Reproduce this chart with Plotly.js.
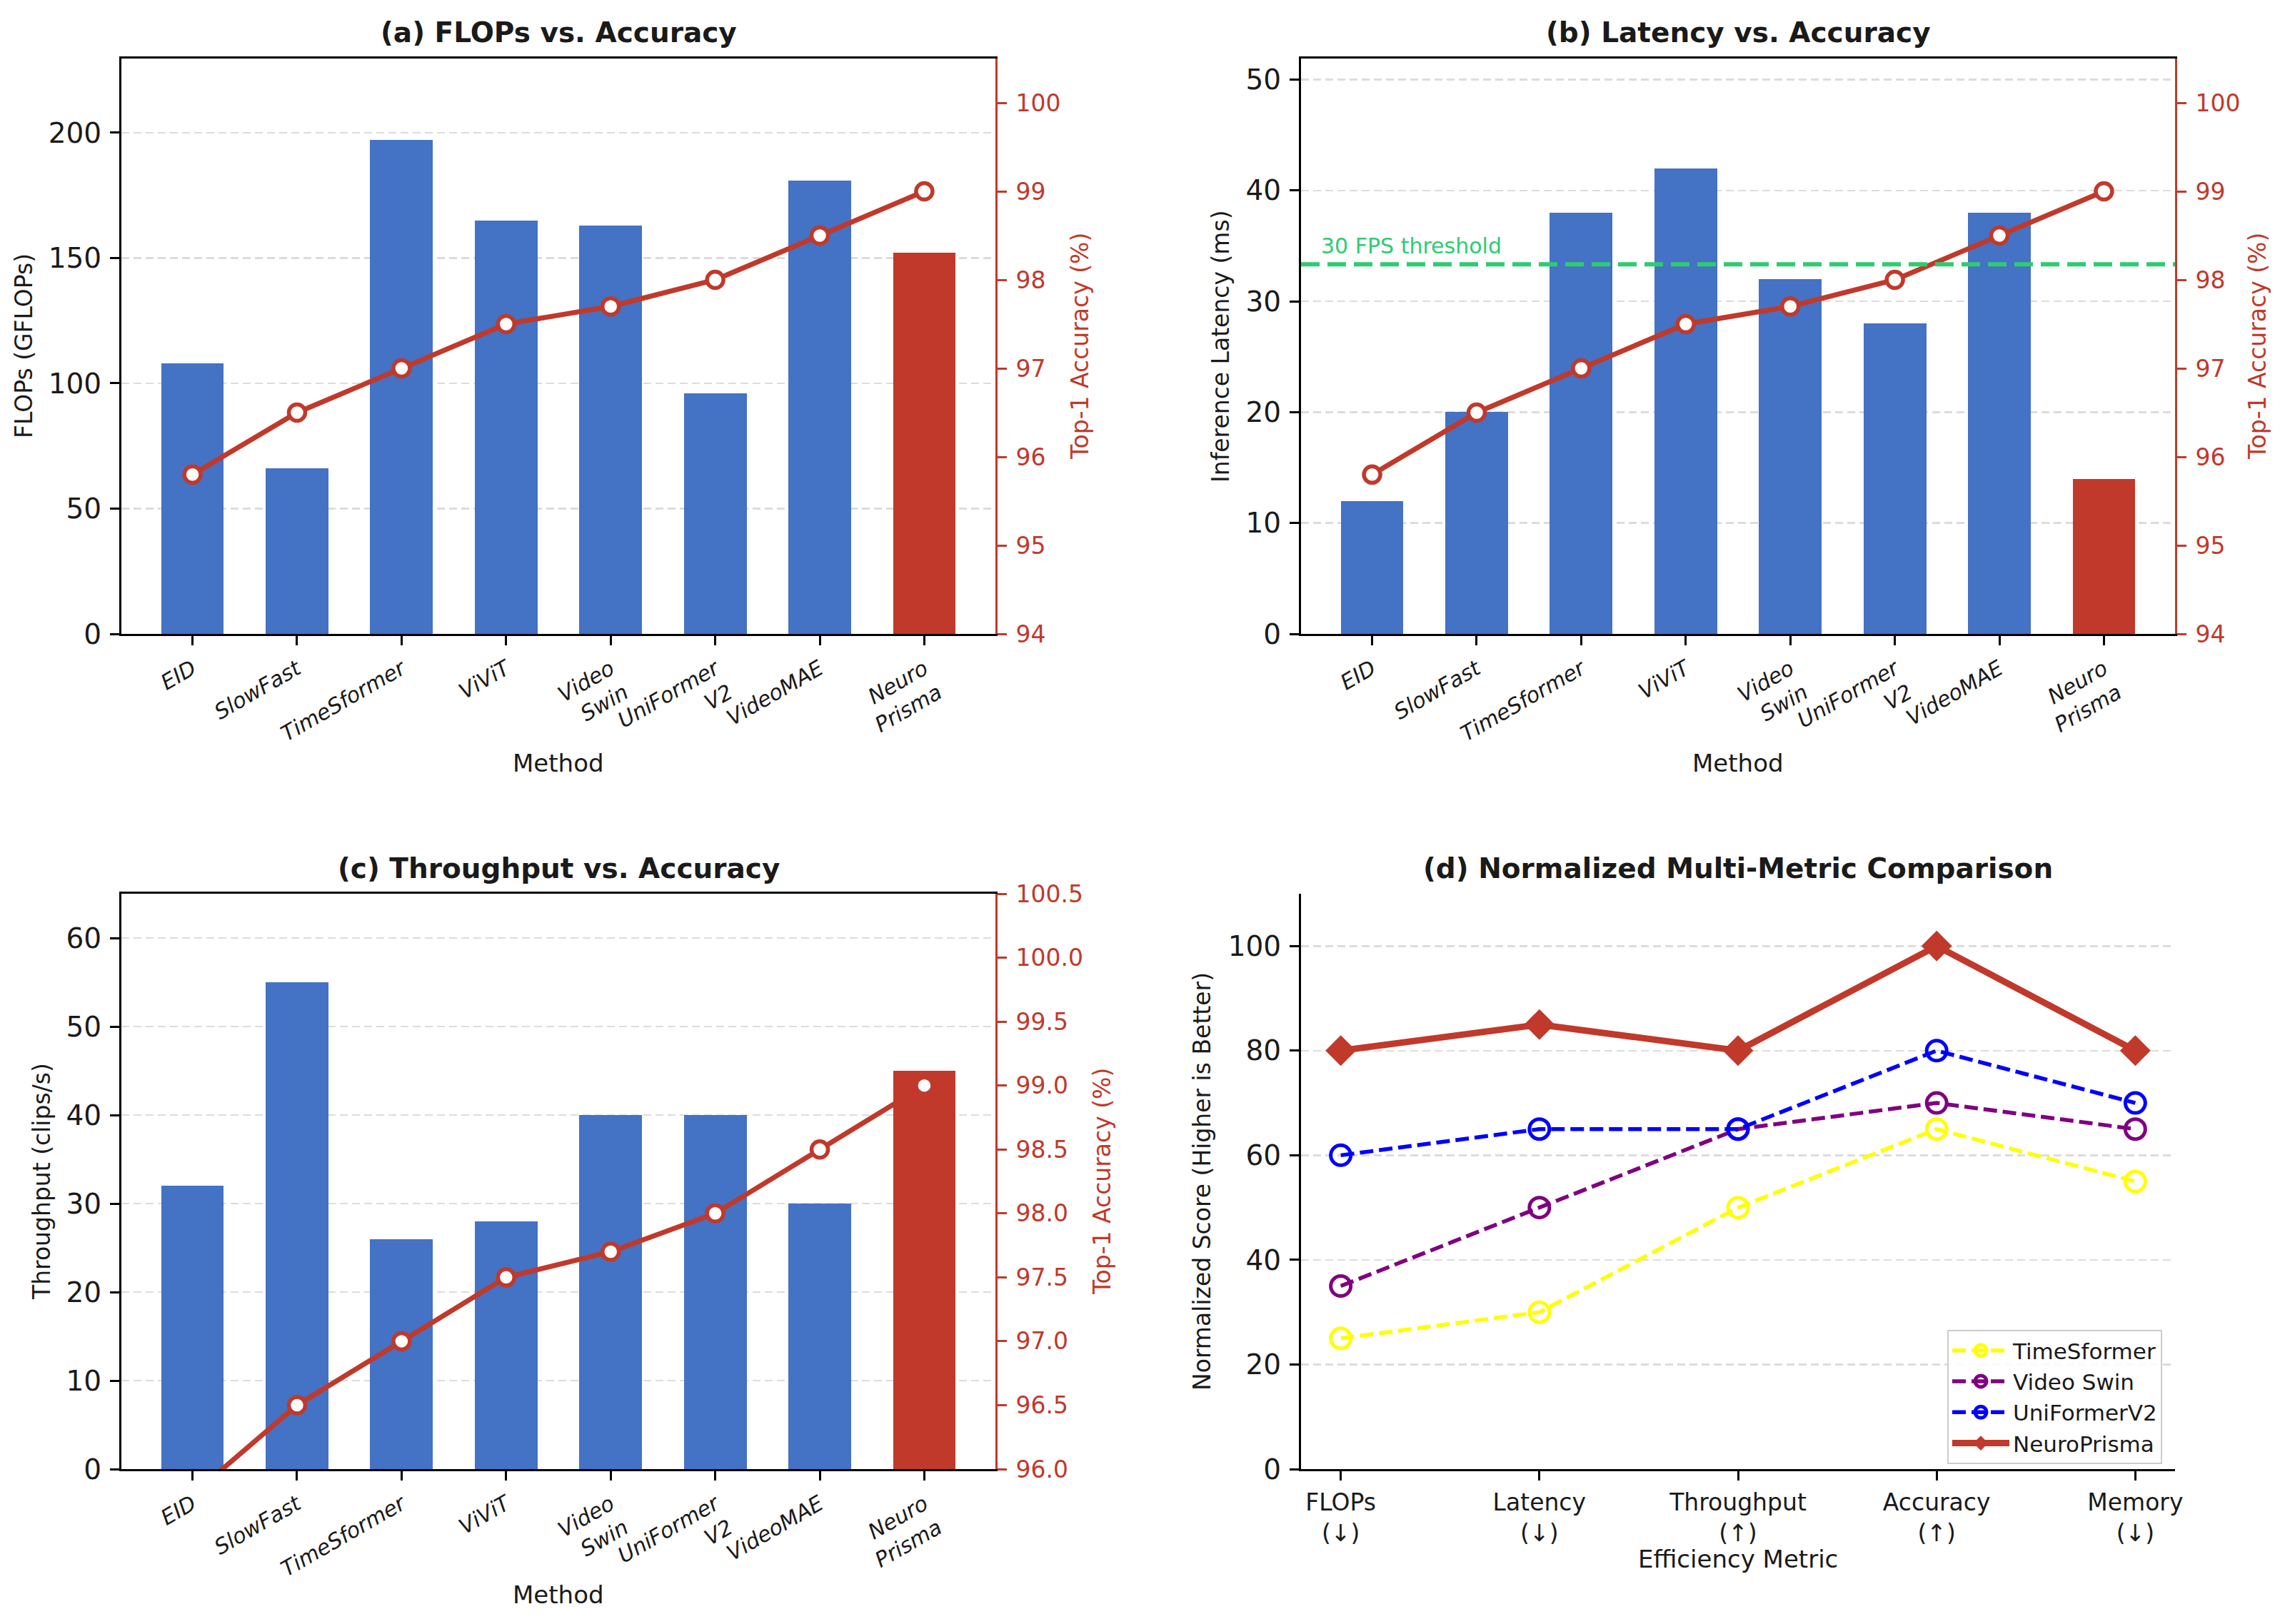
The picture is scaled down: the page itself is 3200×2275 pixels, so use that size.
<!DOCTYPE html>
<html>
<head>
<meta charset="utf-8">
<script src="https://cdn.plot.ly/plotly-3.0.1.min.js"></script>
<style>html,body{margin:0;padding:0;background:#fff;}#chart{width:3200px;height:2275px;}</style>
</head>
<body>
<div id="chart"></div>
<script>
// ---------- data ----------
const methods = ['EID','SlowFast','TimeSformer','ViViT','Video Swin','UniFormer V2','VideoMAE','NeuroPrisma'];
const methodTickLabels = ['EID','SlowFast','TimeSformer','ViViT','Video<br>Swin','UniFormer<br>V2','VideoMAE','Neuro<br>Prisma'];
const flops = [108, 66, 197, 165, 163, 96, 181, 152];
const latency = [12, 20, 38, 42, 32, 28, 38, 14];
const throughput = [32, 55, 26, 28, 40, 40, 30, 45];
const accuracy = [95.8, 96.5, 97.0, 97.5, 97.7, 98.0, 98.5, 99.0];
const thresholdMs = 1000 / 30;
const thresholdLabel = '30 FPS threshold';

const metrics = ['FLOPs (↓)','Latency (↓)','Throughput (↑)','Accuracy (↑)','Memory (↓)'];
const metricTickLabels = ['FLOPs<br>(↓)','Latency<br>(↓)','Throughput<br>(↑)','Accuracy<br>(↑)','Memory<br>(↓)'];
const normTimeSformer = [25, 30, 50, 65, 55];
const normVideoSwin = [35, 50, 65, 70, 65];
const normUniFormerV2 = [60, 65, 65, 80, 70];
const normNeuroPrisma = [80, 85, 80, 100, 80];

// ---------- style ----------
const W = 3200, H = 2275;
const FONT = 'DejaVu Sans';
const BLUE = '#4472C4', RED = '#C0392B', GREEN = '#2ECC71';
const TXT = '#1a1a1a';
const px = x => x / W;
const py = y => 1 - y / H;

const barColors = methods.map(m => m === 'NeuroPrisma' ? RED : BLUE);

function barTrace(vals, xa, ya) {
  return {type: 'bar', x: methods, y: vals, xaxis: xa, yaxis: ya, width: 0.6,
    marker: {color: barColors, line: {width: 0}}, showlegend: false, hoverinfo: 'skip'};
}
function accTrace(xa, ya) {
  return {type: 'scatter', mode: 'lines+markers', x: methods, y: accuracy, xaxis: xa, yaxis: ya,
    line: {color: RED, width: 7}, marker: {symbol: 'circle', size: 23, color: '#ffffff', line: {color: RED, width: 5.5}},
    showlegend: false, cliponaxis: true};
}

const traces = [
  barTrace(flops, 'x', 'y'), accTrace('x', 'y2'),
  barTrace(latency, 'x2', 'y3'), accTrace('x2', 'y4'),
  barTrace(throughput, 'x3', 'y5'), accTrace('x3', 'y6'),
  {type: 'scatter', mode: 'lines+markers', name: 'TimeSformer', x: metrics, y: normTimeSformer, xaxis: 'x4', yaxis: 'y7',
    line: {color: '#FFFF00', width: 5.5, dash: '19px,8px'}, marker: {symbol: 'circle-open', size: 28, line: {width: 5, color: '#FFFF00'}, color: '#FFFF00'}},
  {type: 'scatter', mode: 'lines+markers', name: 'Video Swin', x: metrics, y: normVideoSwin, xaxis: 'x4', yaxis: 'y7',
    line: {color: '#800080', width: 5.5, dash: '19px,8px'}, marker: {symbol: 'circle-open', size: 28, line: {width: 5, color: '#800080'}, color: '#800080'}},
  {type: 'scatter', mode: 'lines+markers', name: 'UniFormerV2', x: metrics, y: normUniFormerV2, xaxis: 'x4', yaxis: 'y7',
    line: {color: '#0000FF', width: 5.5, dash: '19px,8px'}, marker: {symbol: 'circle-open', size: 28, line: {width: 5, color: '#0000FF'}, color: '#0000FF'}},
  {type: 'scatter', mode: 'lines+markers', name: 'NeuroPrisma', x: metrics, y: normNeuroPrisma, xaxis: 'x4', yaxis: 'y7',
    line: {color: RED, width: 9}, marker: {symbol: 'diamond', size: 33, color: RED, line: {width: 0}}}
];

const domAx = [px(170), px(1394)];
const domBx = [px(1822), px(3046)];
const domTopY = [py(888), py(82)];
const domBotY = [py(2058), py(1252)];

function xCat(domain, anchor, vals, labels, range) {
  return {domain: domain, anchor: anchor, type: 'category', range: range,
    tickmode: 'array', tickvals: vals, ticktext: labels, tickangle: -30,
    tickfont: {family: FONT, size: 30, color: TXT, style: 'italic'},
    showline: true, linecolor: '#000', linewidth: 3, mirror: true,
    ticks: 'outside', ticklen: 13, tickwidth: 3, tickcolor: '#000',
    showgrid: false, zeroline: false, fixedrange: true, ticklabelstandoff: 4};
}
function yLeft(domain, anchor, range, dtick) {
  return {domain: domain, anchor: anchor, range: range, dtick: dtick, tick0: 0,
    tickfont: {family: FONT, size: 39, color: TXT},
    showline: true, linecolor: '#000', linewidth: 3, mirror: false,
    ticks: 'outside', ticklen: 13, tickwidth: 3, tickcolor: '#000',
    showgrid: true, gridcolor: '#dcdcdc', gridwidth: 2.5, griddash: '11px,6px',
    zeroline: false, fixedrange: true, ticklabelstandoff: 4};
}
function yRight(overlay, anchor, range, dtick, fmt) {
  return {overlaying: overlay, anchor: anchor, side: 'right', range: range, dtick: dtick, tick0: 94,
    tickformat: fmt, tickfont: {family: FONT, size: 33, color: RED},
    showline: true, linecolor: RED, linewidth: 3,
    ticks: 'outside', ticklen: 13, tickwidth: 3, tickcolor: RED,
    showgrid: false, zeroline: false, fixedrange: true, ticklabelstandoff: 6};
}

const layout = {
  width: W, height: H, paper_bgcolor: '#fff', plot_bgcolor: '#fff',
  margin: {l: 0, r: 0, t: 0, b: 0, pad: 0},
  font: {family: FONT, color: TXT},
  bargap: 0,
  xaxis: xCat(domAx, 'y', methods, methodTickLabels, [-0.68, 7.68]),
  yaxis: yLeft(domTopY, 'x', [0, 229.6], 50),
  yaxis2: yRight('y', 'x', [94, 100.5], 1, 'd'),
  xaxis2: xCat(domBx, 'y3', methods, methodTickLabels, [-0.68, 7.68]),
  yaxis3: yLeft(domTopY, 'x2', [0, 51.9], 10),
  yaxis4: yRight('y3', 'x2', [94, 100.5], 1, 'd'),
  xaxis3: xCat(domAx, 'y5', methods, methodTickLabels, [-0.68, 7.68]),
  yaxis5: yLeft(domBotY, 'x3', [0, 65], 10),
  yaxis6: Object.assign(yRight('y5', 'x3', [96, 100.5], 0.5, '.1f'), {tick0: 96}),
  xaxis4: Object.assign(xCat(domBx, 'y7', metrics, metricTickLabels, [-0.2, 4.2]),
    {tickangle: 0, mirror: false, tickfont: {family: FONT, size: 33, color: TXT}, ticklabelstandoff: 2}),
  yaxis7: yLeft(domBotY, 'x4', [0, 110], 20),
  legend: {x: px(3028), xanchor: 'right', y: py(1863), yanchor: 'top',
    bgcolor: 'rgba(255,255,255,0.85)', bordercolor: '#cccccc', borderwidth: 2,
    font: {family: FONT, size: 31, color: TXT}, itemwidth: 80, tracegroupgap: 0},
  shapes: [
    {type: 'line', xref: 'x2 domain', yref: 'y3', x0: 0, x1: 1, y0: thresholdMs, y1: thresholdMs,
      line: {color: GREEN, width: 6, dash: '26px,11px'}}
  ],
  annotations: []
};

function ann(text, x, y, size, opts) {
  return Object.assign({text: text, xref: 'paper', yref: 'paper', x: px(x), y: py(y),
    xanchor: 'center', yanchor: 'middle', showarrow: false,
    font: {family: FONT, size: size, color: TXT}}, opts || {});
}
const A = layout.annotations;
A.push(ann('<b>(a) FLOPs vs. Accuracy</b>', 782, 45, 39));
A.push(ann('<b>(b) Latency vs. Accuracy</b>', 2434, 45, 39));
A.push(ann('<b>(c) Throughput vs. Accuracy</b>', 782, 1216, 39));
A.push(ann('<b>(d) Normalized Multi-Metric Comparison</b>', 2434, 1216, 39));
A.push(ann('Method', 782, 1069, 34));
A.push(ann('Method', 2434, 1069, 34));
A.push(ann('Method', 782, 2234, 34));
A.push(ann('Efficiency Metric', 2434, 2184, 34));
A.push(ann('FLOPs (GFLOPs)', 33, 485, 33, {textangle: -90}));
A.push(ann('Inference Latency (ms)', 1709, 485, 33, {textangle: -90}));
A.push(ann('Throughput (clips/s)', 58, 1655, 33, {textangle: -90}));
A.push(ann('Normalized Score (Higher is Better)', 1683, 1655, 33, {textangle: -90}));
A.push(ann('Top-1 Accuracy (%)', 1512, 485, 33, {textangle: -90, font: {family: FONT, size: 33, color: RED}}));
A.push(ann('Top-1 Accuracy (%)', 3161, 485, 33, {textangle: -90, font: {family: FONT, size: 33, color: RED}}));
A.push(ann('Top-1 Accuracy (%)', 1543, 1655, 33, {textangle: -90, font: {family: FONT, size: 33, color: RED}}));
A.push({text: thresholdLabel, xref: 'x2', yref: 'y3', x: -0.5, y: thresholdMs, xanchor: 'left', yanchor: 'bottom',
  yshift: 6, showarrow: false, font: {family: FONT, size: 30, color: GREEN}});

Plotly.newPlot('chart', traces, layout, {staticPlot: true, displayModeBar: false});
</script>
</body>
</html>
